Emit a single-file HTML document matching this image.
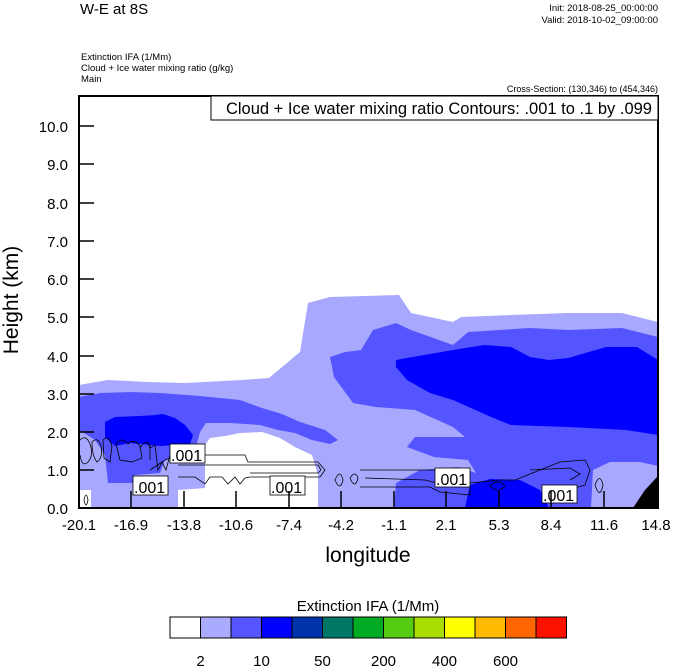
<!DOCTYPE html>
<html><head><meta charset="utf-8"><style>
body{margin:0;background:#fff;}
svg{display:block;font-family:"Liberation Sans",sans-serif;}
</style></head><body>
<svg width="674" height="667" viewBox="0 0 674 667" xmlns="http://www.w3.org/2000/svg">
<text x="80" y="14" font-size="15">W-E at 8S</text>
<text x="658" y="11" font-size="9.5" text-anchor="end">Init: 2018-08-25_00:00:00</text>
<text x="658" y="23" font-size="9.5" text-anchor="end">Valid: 2018-10-02_09:00:00</text>
<text x="81" y="60" font-size="9.5">Extinction IFA   (1/Mm)</text>
<text x="81" y="71" font-size="9.5">Cloud + Ice water mixing ratio   (g/kg)</text>
<text x="81" y="82" font-size="9.5">Main</text>
<text x="658" y="92" font-size="9" text-anchor="end">Cross-Section: (130,346) to (454,346)</text>

<clipPath id="c"><rect x="79" y="96" width="579" height="412"/></clipPath>
<g clip-path="url(#c)">
<!-- light blue -->
<path fill="#a8a8ff" d="M79,385 L108,380 L147,382 L185,383 L242,380 L269,378 L300,352 L308,303 L330,297 L399,295 L411,313 L453,322 L461,317 L511,315 L568,313 L622,313 L658,322 L658,508 L79,508 Z"/>
<!-- white pocket -->
<path fill="#fff" d="M205,445 L210,438 L225,436 L240,433 L262,432 L280,438 L295,447 L312,455 L318,475 L318,508 L178,508 L178,490 L205,488 Z"/>
<path fill="#fff" d="M79,490 L91,490 L91,508 L79,508 Z"/>
<!-- medium left -->
<path fill="#5555ff" d="M79,397 L100,393 L130,392 L160,393 L200,396 L240,400 L262,408 L282,414 L300,422 L325,430 L338,440 L330,444 L312,440 L295,433 L278,430 L260,425 L230,423 L206,423 L200,432 L196,447 L180,452 L165,460 L160,473 L135,475 L133,483 L108,483 L105,455 L95,440 L79,430 Z"/>
<!-- dark left -->
<path fill="#0000ff" d="M105,422 L115,417 L140,416 L155,415 L163,414 L175,418 L185,425 L193,435 L190,444 L160,446 L130,443 L115,446 L105,437 Z"/>
<!-- medium right -->
<path fill="#5555ff" d="M330,357 L345,352 L361,350 L373,330 L396,323 L411,330 L453,345 L468,332 L530,328 L568,330 L622,328 L658,337 L658,508 L394,508 L396,483 L420,470 L458,467 L476,473 L468,460 L434,457 L407,447 L415,437 L465,437 L453,427 L415,410 L376,407 L353,403 L334,377 Z"/>
<!-- light bottom right -->
<path fill="#a8a8ff" d="M591,508 L593,470 L610,462 L640,462 L658,466 L658,508 Z"/>
<!-- dark right -->
<path fill="#0000ff" d="M396,360 L407,358 L453,350 L484,345 L511,347 L530,357 L549,360 L568,358 L606,347 L637,347 L658,360 L658,435 L626,430 L568,427 L511,425 L491,417 L453,400 L430,393 L407,380 L396,367 Z"/>
<path fill="#0000ff" d="M465,508 L470,485 L490,479 L520,480 L540,490 L549,508 Z"/>
<path fill="#000" d="M633,508 L645,490 L658,476 L658,508 Z"/>
<!-- contours -->
<g fill="none" stroke="#000" stroke-width="0.8">
<path d="M80,440 Q86,434 90,444 Q94,455 88,462 Q82,468 80,455"/>
<path d="M92,442 Q98,436 101,446 Q103,458 97,462 Q92,456 92,442"/>
<path d="M103,440 Q108,434 112,446 L110,462 L104,458 Z"/>
<path d="M116,444 Q122,436 128,444 Q134,438 140,446 L142,458 L132,462 L120,460 Z"/>
<path d="M140,448 Q146,438 150,446 L150,460"/>
<path d="M148,442 L150,448 L155,445 L158,470 L162,462 L166,470 L170,455"/>
<path d="M150,470 L165,460 L178,455 L245,455 L248,462 L318,462 L325,470 L320,477 L250,477 L245,478 L240,484 L235,477 L228,484 L222,477 L210,477 L205,484 L195,477 L178,477"/>
<path d="M178,465 L318,465 L321,470 L318,473 L250,473"/>
<path d="M84,500 Q86,490 88,500 Q86,510 84,500"/>
<path d="M335,480 Q340,468 343,480 Q340,492 335,480"/>
<path d="M350,478 Q355,470 358,478 Q355,490 350,478"/>
<path d="M360,470 L440,470 L445,478 L460,480 L470,483 L500,480 L515,480 L520,478 L540,470 L560,462 L585,460 L590,470 L585,485 L575,488 L560,490"/>
<path d="M360,487 L430,487 L440,492 L470,495 L470,485"/>
<path d="M365,478 L425,480 L445,485"/>
<path d="M490,486 Q498,478 505,486 Q498,494 490,486"/>
<path d="M530,470 L570,468 L580,474 L570,480"/>
<path d="M595,485 Q600,472 603,485 Q600,500 595,485"/>
</g>
</g>
<!-- labels in contour -->
<g stroke="#000" stroke-width="0.8">
<rect x="170" y="444" width="35" height="19" fill="#fff"/>
<rect x="133" y="476" width="35" height="19" fill="#fff"/>
<rect x="270" y="476" width="35" height="19" fill="#fff"/>
<rect x="435" y="468" width="35" height="19" fill="#fff"/>
<rect x="542" y="485" width="35" height="18" fill="#fff"/>
</g>
<g font-size="16">
<text x="171" y="461">.001</text>
<text x="134" y="493">.001</text>
<text x="271" y="493">.001</text>
<text x="436" y="485">.001</text>
<text x="543" y="501">.001</text>
</g>

<!-- frame -->
<rect x="79" y="96" width="579" height="412" fill="none" stroke="#000" stroke-width="2"/>
<rect x="211" y="96" width="447" height="24" fill="#fff" stroke="#000" stroke-width="1"/>
<text x="652" y="114" font-size="16.5" text-anchor="end">Cloud + Ice water mixing ratio Contours: .001 to .1 by .099</text>

<!-- ticks -->
<g stroke="#000" stroke-width="1.5">
<line x1="79" y1="470" x2="94" y2="470"/><line x1="79" y1="432" x2="94" y2="432"/>
<line x1="79" y1="394" x2="94" y2="394"/><line x1="79" y1="356" x2="94" y2="356"/>
<line x1="79" y1="317" x2="94" y2="317"/><line x1="79" y1="279" x2="94" y2="279"/>
<line x1="79" y1="241" x2="94" y2="241"/><line x1="79" y1="203" x2="94" y2="203"/>
<line x1="79" y1="164" x2="94" y2="164"/><line x1="79" y1="126" x2="94" y2="126"/>
<line x1="131" y1="508" x2="131" y2="491"/><line x1="184" y1="508" x2="184" y2="491"/>
<line x1="236" y1="508" x2="236" y2="491"/><line x1="289" y1="508" x2="289" y2="491"/>
<line x1="341" y1="508" x2="341" y2="491"/><line x1="394" y1="508" x2="394" y2="491"/>
<line x1="446" y1="508" x2="446" y2="491"/><line x1="499" y1="508" x2="499" y2="491"/>
<line x1="551" y1="508" x2="551" y2="491"/><line x1="604" y1="508" x2="604" y2="491"/>
</g>
<g font-size="15" text-anchor="end">
<text x="68" y="514">0.0</text><text x="68" y="476">1.0</text><text x="68" y="438">2.0</text>
<text x="68" y="400">3.0</text><text x="68" y="362">4.0</text><text x="68" y="323">5.0</text>
<text x="68" y="285">6.0</text><text x="68" y="247">7.0</text><text x="68" y="209">8.0</text>
<text x="68" y="170">9.0</text><text x="68" y="132">10.0</text>
</g>
<g font-size="15" text-anchor="middle">
<text x="79" y="530">-20.1</text><text x="131" y="530">-16.9</text><text x="184" y="530">-13.8</text>
<text x="236" y="530">-10.6</text><text x="289" y="530">-7.4</text><text x="341" y="530">-4.2</text>
<text x="394" y="530">-1.1</text><text x="446" y="530">2.1</text><text x="499" y="530">5.3</text>
<text x="551" y="530">8.4</text><text x="604" y="530">11.6</text><text x="656" y="530">14.8</text>
</g>
<text x="368" y="562" font-size="21" text-anchor="middle">longitude</text>
<text transform="translate(18,300) rotate(-90)" font-size="21" text-anchor="middle">Height (km)</text>

<!-- colorbar -->
<text x="368" y="611" font-size="15" text-anchor="middle">Extinction IFA  (1/Mm)</text>
<g stroke="#000" stroke-width="1">
<rect x="170" y="617" width="30.5" height="21" fill="#ffffff"/>
<rect x="200.5" y="617" width="30.5" height="21" fill="#aaaaff"/>
<rect x="231" y="617" width="30.5" height="21" fill="#5555ff"/>
<rect x="261.5" y="617" width="30.5" height="21" fill="#0000ff"/>
<rect x="292" y="617" width="30.5" height="21" fill="#0033aa"/>
<rect x="322.5" y="617" width="30.5" height="21" fill="#007766"/>
<rect x="353" y="617" width="30.5" height="21" fill="#00aa22"/>
<rect x="383.5" y="617" width="30.5" height="21" fill="#55cc11"/>
<rect x="414" y="617" width="30.5" height="21" fill="#aadd00"/>
<rect x="444.5" y="617" width="30.5" height="21" fill="#ffff00"/>
<rect x="475" y="617" width="30.5" height="21" fill="#ffbb00"/>
<rect x="505.5" y="617" width="30.5" height="21" fill="#ff6600"/>
<rect x="536" y="617" width="30.5" height="21" fill="#ff1100"/>
</g>
<g font-size="15" text-anchor="middle">
<text x="200.5" y="666">2</text><text x="261.5" y="666">10</text><text x="322.5" y="666">50</text>
<text x="383.5" y="666">200</text><text x="444.5" y="666">400</text><text x="505.5" y="666">600</text>
</g>
</svg>
</body></html>
